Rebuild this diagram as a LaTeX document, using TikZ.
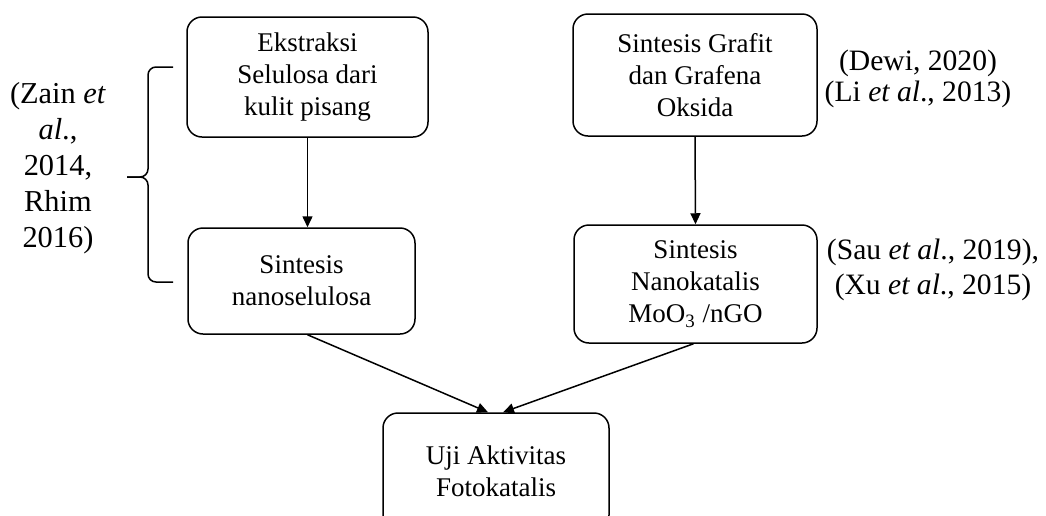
\documentclass[tikz,border=0pt]{standalone}
\usepackage{fontspec}
\setmainfont{Liberation Serif}
\usetikzlibrary{arrows.meta}

\begin{document}
\begin{tikzpicture}[x=0.5pt,y=-0.5pt,line width=0.75pt]

      \useasboundingbox (0,0) rectangle (1046,515);

      \begin{scope}[every node/.style={draw, rounded corners=7.5pt, align=center, inner sep=0pt,
          font=\fontsize{13.5}{16}\selectfont}]
        \node[minimum width=120.5pt, minimum height=60pt] (1) at (307.5,77) {Ekstraksi\\Selulosa dari\\kulit pisang};
        \node[minimum width=113.5pt, minimum height=53pt] (2) at (301.5,281) {Sintesis\\nanoselulosa};
        \node[minimum width=122pt, minimum height=61pt] (3) at (695,75) {Sintesis Grafit\\dan Grafena\\Oksida};
        \node[minimum width=121.5pt, minimum height=59pt] (4) at (695.5,284) {Sintesis\\Nanokatalis\\MoO\textsubscript{3} /nGO};
        \node[minimum width=113pt, minimum height=58.5pt] (5) at (496,471.5) {Uji Aktivitas\\Fotokatalis};
      \end{scope}

      % sumber pustaka
      \begin{scope}[every node/.style={align=center, inner sep=0pt}]
        \node[font=\fontsize{15.2}{18}\selectfont] (6) at (58,168) {(Zain \textit{et}\\\textit{al}.,\\2014,\\Rhim\\2016)};
        \node[font=\fontsize{14.8}{15.5}\selectfont] (7) at (918,79) {(Dewi, 2020)\\(Li \textit{et al}., 2013)};
        \node[font=\fontsize{14.8}{17.5}\selectfont] (8) at (933,270) {(Sau \textit{et al}., 2019),\\(Xu \textit{et al}., 2015)};
      \end{scope}

      % kurung kurawal
      \coordinate (bt) at (173,67);
      \coordinate (bb) at (173,282);
      \coordinate (bm) at (127,177);
      \draw[rounded corners=4pt] (bt) -- (148,67) -- (148,177) -- (bm);
      \draw[rounded corners=4pt] (bb) -- (148,282) -- (148,177) -- (bm);

      \begin{scope}[every edge/.style={draw, -{Triangle[length=5.5pt,width=5pt]}}]
        \path (1.south) edge (1.south |- 2.north);
        \path (3.south) edge (4.north);
        \path ([xshift=3pt]2.south) edge ([xshift=-4pt]5.north);
        \path ([xshift=-1pt]4.south) edge ([xshift=3.5pt]5.north);
      \end{scope}

    \end{tikzpicture}
\end{document}
